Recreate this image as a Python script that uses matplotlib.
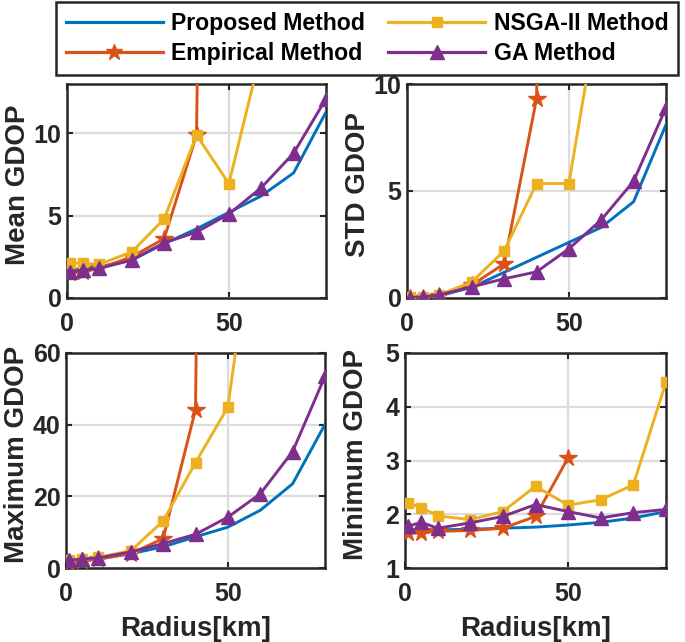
import matplotlib
matplotlib.use("Agg")
import matplotlib.pyplot as plt
from matplotlib.lines import Line2D

plt.rcParams['font.family'] = ['Liberation Sans', 'DejaVu Sans']
plt.rcParams['font.weight'] = 'bold'

# ---------------- data ----------------
radius = [1, 5, 10, 20, 30, 40, 50, 60, 70, 80]
radius_emp = [1, 5, 10, 20, 30, 40, 50]

series_names = ["Proposed Method", "Empirical Method", "NSGA-II Method", "GA Method"]

mean_proposed = [1.7, 1.8, 1.9, 2.3, 3.3, 4.2, 5.2, 6.2, 7.6, 11.3]
mean_empirical = [1.5, 1.6, 1.8, 2.5, 3.6, 9.9, 150.0]
mean_nsga = [2.15, 2.1, 2.05, 2.8, 4.8, 9.9, 6.95, 15.0, 30.0, 60.0]
mean_ga = [1.6, 1.7, 1.8, 2.3, 3.35, 4.0, 5.1, 6.7, 8.8, 12.1]

std_proposed = [0.0, 0.05, 0.1, 0.5, 1.2, 1.9, 2.6, 3.3, 4.5, 8.1]
std_empirical = [0.0, 0.02, 0.1, 0.6, 1.6, 9.3, 80.0]
std_nsga = [0.05, 0.05, 0.15, 0.75, 2.2, 5.35, 5.35, 14.3, 30.0, 60.0]
std_ga = [0.02, 0.05, 0.15, 0.52, 0.9, 1.22, 2.3, 3.65, 5.46, 8.9]

max_proposed = [1.8, 2.0, 2.5, 4.0, 5.9, 8.7, 11.4, 16.1, 23.5, 40.1]
max_empirical = [1.5, 2.0, 2.5, 4.0, 8.2, 44.2, 800.0]
max_nsga = [2.2, 2.5, 3.0, 4.8, 13.1, 29.4, 44.9, 110.0, 200.0, 400.0]
max_ga = [2.2, 2.5, 2.8, 4.5, 6.8, 9.4, 14.2, 20.7, 32.5, 53.5]

min_proposed = [1.71, 1.71, 1.71, 1.72, 1.74, 1.76, 1.8, 1.85, 1.93, 2.05]
min_empirical = [1.65, 1.65, 1.68, 1.7, 1.74, 1.96, 3.05]
min_nsga = [2.21, 2.12, 1.97, 1.9, 2.05, 2.52, 2.17, 2.27, 2.55, 4.46]
min_ga = [1.78, 1.85, 1.74, 1.84, 1.96, 2.18, 2.05, 1.93, 2.03, 2.09]

panels = [
    ("Mean GDOP", mean_proposed, mean_empirical, mean_nsga, mean_ga, (0, 13), [0, 5, 10]),
    ("STD GDOP", std_proposed, std_empirical, std_nsga, std_ga, (0, 10), [0, 5, 10]),
    ("Maximum GDOP", max_proposed, max_empirical, max_nsga, max_ga, (0, 60), [0, 20, 40, 60]),
    ("Minimum GDOP", min_proposed, min_empirical, min_nsga, min_ga, (1, 5), [1, 2, 3, 4, 5]),
]

colors = ["#0072BD", "#D95319", "#EDB120", "#7E2F8E"]
markers = [None, "*", "s", "^"]
msizes = [0, 13, 6.5, 10]
lw = 2.1
dark = "#262626"

W, H = 685, 642
fig = plt.figure(figsize=(W / 100, H / 100), dpi=100)

rects = [
    (67, 84, 326, 298),
    (407, 84, 666, 298),
    (66, 353, 325, 568),
    (405, 353, 666, 568),
]

for i, (rect, panel) in enumerate(zip(rects, panels)):
    x0, y0, x1, y1 = rect
    ax = fig.add_axes([x0 / W, 1 - y1 / H, (x1 - x0) / W, (y1 - y0) / H])
    label, p, e, n, g, ylim, yticks = panel
    data = [(radius, p), (radius_emp, e), (radius, n), (radius, g)]
    for k, (xs, ys) in enumerate(data):
        ax.plot(xs, ys, color=colors[k], lw=lw, marker=markers[k],
                markersize=msizes[k], markerfacecolor=colors[k],
                markeredgecolor=colors[k], clip_on=True, zorder=3 + k)
    ax.set_xlim(0, 80)
    ax.set_ylim(*ylim)
    ax.set_xticks([0, 50])
    ax.set_yticks(yticks)
    ax.grid(True, color="#dcdcdc", lw=1.6)
    ax.set_axisbelow(True)
    for s in ax.spines.values():
        s.set_linewidth(1.8)
        s.set_color(dark)
    ax.tick_params(direction="in", length=4, width=1.5, color=dark,
                   top=True, right=True, labelsize=18, labelcolor=dark)
    ax.tick_params(axis="x", pad=10)
    ax.tick_params(axis="y", pad=4)
    for t in ax.get_xticklabels() + ax.get_yticklabels():
        t.set_fontweight("bold")
    ax.set_ylabel(label, fontsize=20, fontweight="bold", color=dark)
    ax.yaxis.set_label_coords(-0.139, 0.53)
    if i >= 2:
        ax.set_xlabel("Radius[km]", fontsize=20, fontweight="bold", color=dark,
                      labelpad=7)

handles = [Line2D([], [], color=colors[k], lw=2.3, marker=markers[k],
                  markersize=[0, 12, 6.5, 10][k], markerfacecolor=colors[k],
                  markeredgecolor=colors[k]) for k in range(4)]
leg = fig.legend(handles, series_names, ncol=2, loc="upper left",
                 bbox_to_anchor=(56 / W, 1 - 2 / H),
                 handlelength=4.2, handletextpad=0.38, columnspacing=1.0,
                 borderpad=0.42, borderaxespad=0.0,
                 labelspacing=0.32, fancybox=False, framealpha=1,
                 prop={"weight": "bold", "size": 16.6})
leg.get_frame().set_edgecolor(dark)
leg.get_frame().set_linewidth(1.8)

fig.savefig("out.png", dpi=100)
